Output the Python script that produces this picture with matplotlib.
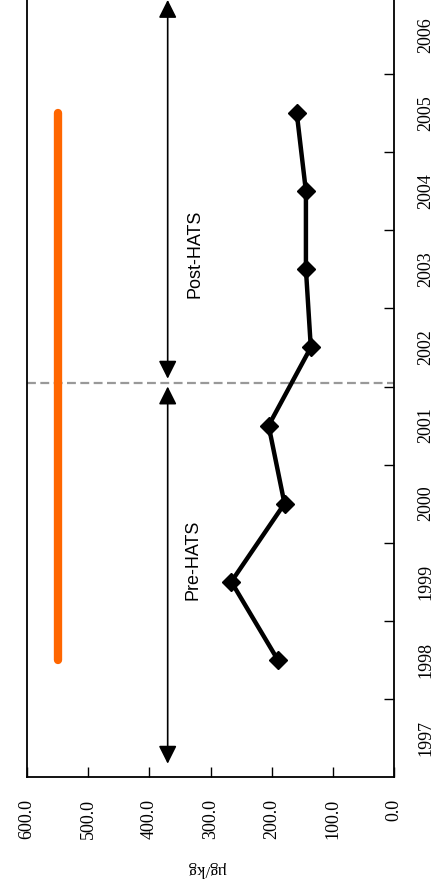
import matplotlib
matplotlib.use("Agg")
import matplotlib.pyplot as plt
import matplotlib.ticker as mticker

# chart is drawn turned on its side: years run up the right edge,
# concentration runs right-to-left along the bottom
years = [1997, 1998, 1999, 2000, 2001, 2002, 2003, 2004, 2005, 2006]
sample_years = [1998, 1999, 2000, 2001, 2002, 2003, 2004, 2005]
lmw_pah = [190.0, 266.0, 179.0, 205.0, 136.0, 144.0, 144.0, 159.0]
guideline = [550.0] * len(sample_years)
value_ticks = [600.0, 500.0, 400.0, 300.0, 200.0, 100.0, 0.0]

hats_start = 2001.55
arrow_value = 370.0
pre_span = (1996.67, 2001.50)
post_span = (2001.60, 2006.45)

SERIF = ["Liberation Serif", "DejaVu Serif"]
SANS = ["Liberation Sans", "DejaVu Sans"]


def pos(year):
    return year - years[0]


def main():
    fig = plt.figure(figsize=(4.38, 8.9), dpi=100)
    ax = fig.add_axes([27 / 438, 113 / 890, 367 / 438, 781 / 890])

    y_pts = [pos(y) for y in sample_years]
    ax.plot(guideline, y_pts, color="#ff6600", lw=6, solid_capstyle="round", zorder=2)
    ax.plot(lmw_pah, y_pts, color="black", lw=3.2, marker="D", ms=9.5, zorder=3)

    ax.axhline(pos(hats_start), color="#999999", lw=1.6, ls=(0, (4, 2)), zorder=1)

    arrow = dict(arrowstyle="<|-|>,head_length=1.1,head_width=0.55", color="black",
                 lw=1.2, shrinkA=0, shrinkB=0, mutation_scale=10)
    for lo, hi in (pre_span, post_span):
        ax.annotate("", xy=(arrow_value, pos(hi)), xytext=(arrow_value, pos(lo)),
                    arrowprops=arrow, annotation_clip=False)

    ax.text(329, 2.28, "Pre-HATS", rotation=90, ha="center", va="center",
            fontsize=13, family=SANS)
    ax.text(326, 6.2, "Post-HATS", rotation=90, ha="center", va="center",
            fontsize=13, family=SANS)

    ax.set_xlim(600, 0)
    ax.set_ylim(-0.5, len(years) - 0.5)

    ax.set_xticks(value_ticks)
    ax.xaxis.set_major_formatter(mticker.FormatStrFormatter("%.1f"))
    ax.tick_params(axis="x", direction="in", length=7, width=1, pad=16, labelrotation=90)
    for lab in ax.get_xticklabels():
        lab.set_family(SERIF)
        lab.set_fontsize(13)

    ax.yaxis.tick_right()
    ax.set_yticks(range(len(years)))
    ax.set_yticklabels([str(y) for y in years], rotation=90, va="center",
                       family=SERIF, fontsize=13)
    ax.set_yticks([i + 0.5 for i in range(len(years) - 1)], minor=True)
    ax.tick_params(axis="y", which="major", length=0, pad=17)
    ax.tick_params(axis="y", which="minor", direction="in", length=7, width=1)

    for side in ("left", "right", "bottom", "top"):
        ax.spines[side].set_linewidth(1.3)

    fig.text(207 / 438, 1 - 869 / 890, "µg/kg", rotation=180, ha="center", va="center",
             fontsize=12, family=SERIF)

    fig.savefig("out.png", dpi=100)
    plt.close(fig)


if __name__ == "__main__":
    main()
